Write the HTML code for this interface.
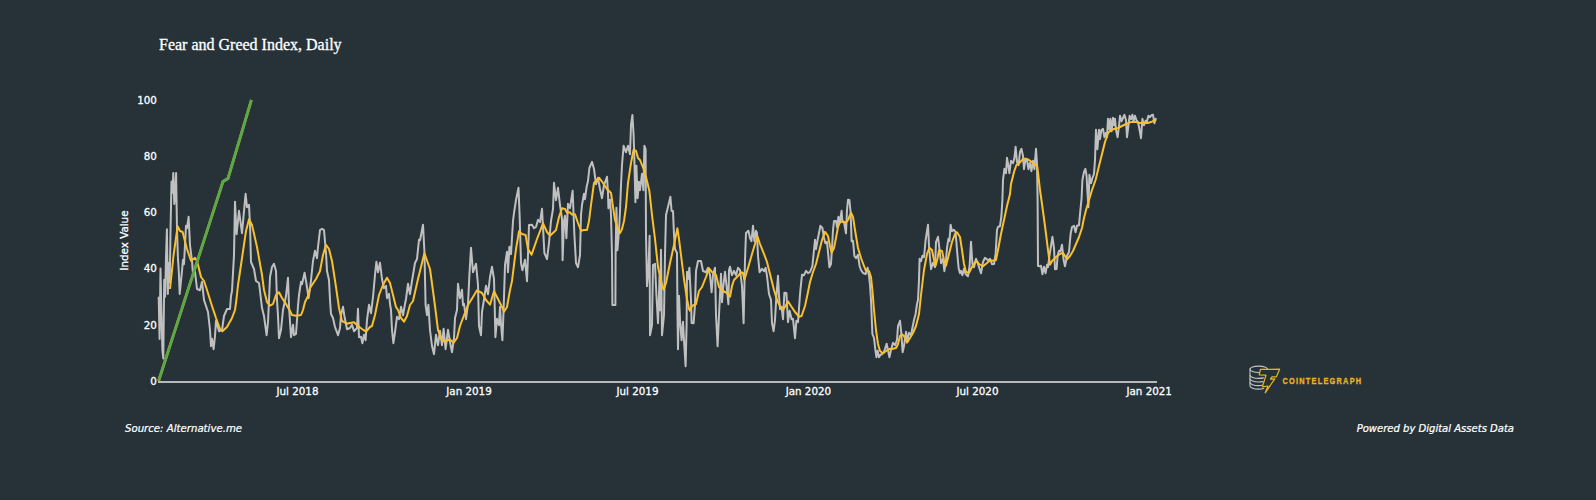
<!DOCTYPE html>
<html lang="en"><head><meta charset="utf-8"><title>Fear and Greed Index, Daily</title>
<style>
html,body{margin:0;padding:0;background:#263238;}
body{width:1596px;height:500px;overflow:hidden;position:relative;}
svg{position:absolute;left:0;top:0;display:block;}
.t{font-family:"DejaVu Sans","Liberation Sans",sans-serif;font-size:11px;fill:#fff;stroke:#fff;stroke-width:0.3px;}
.ti{font-family:"Liberation Serif",serif;font-size:16px;fill:#fff;stroke:#fff;stroke-width:0.3px;}
.it{font-family:"DejaVu Sans","Liberation Sans",sans-serif;font-size:11px;font-style:italic;fill:#fff;stroke:#fff;stroke-width:0.25px;}
.ct{font-family:"Liberation Sans",sans-serif;font-weight:bold;font-size:9.5px;fill:#e9b223;stroke:#e9b223;stroke-width:0.35px;letter-spacing:1.6px;}
</style></head><body>
<svg width="1596" height="500" viewBox="0 0 1596 500">
<rect x="0" y="0" width="1596" height="500" fill="#263238"/>
<text class="ti" x="159" y="50">Fear and Greed Index, Daily</text>
<polyline fill="none" stroke="#c0c0c0" stroke-width="2" stroke-linejoin="round" points="158.7,296.7 159.6,338.9 160.5,268.6 161.4,313.6 162.4,350.1 163.3,358.5 164.2,279.8 165.1,296.7 166.0,257.4 166.9,229.3 167.8,293.9 168.8,263.0 169.7,282.6 170.6,226.4 171.5,181.5 172.4,192.7 173.3,173.1 174.3,204.0 175.2,192.7 176.1,173.1 177.0,229.3 177.9,257.4 178.8,271.4 179.7,293.9 182.0,271.0 183.0,259.8 184.0,264.2 186.0,225.8 187.0,228.2 188.6,216.8 190.0,245.0 192.0,261.0 193.0,274.2 195.0,271.8 197.0,289.0 200.0,290.2 202.0,281.8 204.0,300.0 208.0,312.0 210.0,330.0 211.0,346.2 212.0,338.8 213.6,349.2 215.0,336.0 216.0,320.8 219.0,331.2 222.0,330.0 224.0,316.0 227.0,309.0 230.0,309.0 231.0,296.0 232.0,291.0 234.0,255.0 235.0,201.8 236.6,234.2 239.0,210.8 242.0,233.2 245.6,193.8 247.0,207.2 249.0,204.8 250.0,225.0 251.0,262.0 254.0,269.0 256.0,281.0 259.0,283.0 260.0,291.0 262.0,308.0 264.0,316.0 266.6,335.2 268.0,322.0 269.0,300.0 270.0,277.0 272.0,267.0 274.0,263.8 276.0,271.0 277.0,300.0 278.0,316.0 279.0,338.2 281.0,330.0 283.0,310.0 286.0,296.0 288.0,277.8 289.0,306.0 291.0,337.2 293.0,324.8 294.0,335.2 296.0,334.0 298.0,306.0 299.0,295.0 301.0,281.8 302.0,284.2 304.6,272.8 306.5,284.0 308.6,298.2 310.5,285.0 313.0,261.0 315.0,250.8 317.0,258.2 318.0,247.0 320.0,230.0 322.0,228.8 324.0,230.0 326.0,253.0 327.0,271.0 329.0,280.0 330.0,300.0 331.0,314.0 333.0,318.0 335.0,327.0 338.0,335.2 340.0,328.0 341.0,315.0 343.0,306.8 344.4,316.0 347.0,329.2 350.0,328.0 352.0,324.8 354.0,331.2 357.0,328.0 358.0,308.8 359.0,337.2 361.0,336.8 362.4,343.2 364.0,334.8 365.6,340.2 367.0,320.0 369.0,304.8 371.0,313.2 373.0,297.0 375.0,275.0 376.4,261.8 378.0,272.2 380.0,262.8 382.0,279.0 384.0,288.2 386.0,285.8 387.0,298.2 389.0,293.8 390.0,304.0 391.0,310.0 392.0,330.0 393.4,343.2 395.0,332.0 397.0,316.8 399.0,319.2 401.0,306.8 403.0,315.2 405.0,304.0 406.0,299.0 408.0,283.8 410.0,294.2 412.0,281.0 415.0,263.0 417.0,259.0 419.0,239.8 420.0,240.2 423.0,224.8 424.4,251.0 425.6,305.0 427.0,315.2 428.4,304.8 430.0,330.0 432.0,346.0 434.0,354.2 436.0,334.8 438.0,345.2 440.0,330.8 442.0,345.2 443.6,328.8 445.6,349.2 448.0,329.8 450.0,342.0 452.0,352.2 454.0,338.0 455.0,318.0 457.0,310.0 458.0,283.8 460.0,298.2 462.0,289.8 463.0,305.2 464.0,303.8 466.0,319.2 468.0,304.0 469.4,275.0 471.0,247.8 473.0,272.2 476.0,263.8 478.0,285.0 479.0,326.0 481.0,335.2 482.0,312.0 484.4,297.0 486.0,285.8 488.0,294.2 490.0,277.0 492.0,266.8 494.0,279.0 494.6,302.0 495.4,337.2 497.0,318.8 499.0,325.2 500.0,306.8 501.0,324.0 502.4,340.2 503.6,310.0 505.0,265.0 507.0,251.8 508.0,272.2 509.4,246.8 511.0,254.2 513.0,221.0 514.0,213.0 516.0,200.0 518.5,187.8 519.6,215.0 521.0,263.0 522.4,270.2 525.0,259.8 527.0,281.2 528.0,255.0 529.0,225.0 532.0,224.8 534.0,228.2 536.0,227.0 538.0,219.8 540.0,222.2 542.0,208.8 543.0,227.0 544.4,253.0 547.0,259.2 549.0,243.0 551.0,221.0 553.0,209.0 554.0,182.8 556.0,200.2 558.0,187.8 560.0,205.0 562.0,219.0 562.6,260.2 564.0,221.0 565.0,215.8 566.4,238.2 568.0,203.8 570.0,208.2 572.6,190.8 574.4,235.0 576.0,263.0 578.0,267.2 580.0,255.0 581.0,215.0 582.0,205.0 584.0,193.8 585.0,199.2 586.6,187.0 588.0,181.0 589.4,168.0 592.0,161.8 594.0,169.0 596.0,184.2 598.0,177.8 600.0,189.0 602.0,198.2 604.0,185.0 607.0,176.8 608.0,193.0 608.4,208.2 610.0,199.8 611.0,215.0 612.0,255.0 612.4,305.0 615.4,305.0 615.6,255.0 616.4,207.8 617.4,250.2 619.0,231.0 620.0,211.0 621.0,185.0 622.0,165.0 623.6,145.8 626.0,152.2 628.0,145.8 630.0,154.2 631.0,125.0 632.4,115.1 633.6,135.0 634.4,161.0 635.4,202.2 636.4,165.8 637.6,198.2 639.0,181.8 640.0,190.2 642.0,173.8 643.4,190.2 644.4,145.8 645.6,149.0 646.0,235.0 647.0,286.2 648.4,271.0 649.6,235.8 650.0,335.2 652.0,325.0 653.0,265.0 655.0,263.8 656.4,295.0 658.0,323.2 659.6,275.8 660.0,310.2 661.0,249.8 662.0,335.2 664.0,315.0 665.0,255.0 666.0,215.0 668.0,207.0 670.4,196.8 671.6,211.0 673.0,211.0 674.0,235.0 675.0,249.0 677.0,253.0 677.5,315.0 678.0,349.2 679.0,295.8 680.0,320.0 681.6,340.2 683.0,321.8 684.0,340.0 685.6,366.2 686.6,325.0 687.0,271.8 688.0,279.2 689.4,267.8 691.0,300.0 691.6,323.0 693.6,323.2 695.0,305.0 696.0,271.0 698.0,261.0 701.0,261.0 703.0,271.0 706.0,272.2 708.0,267.8 710.0,275.0 711.6,292.2 713.0,275.0 715.0,267.8 716.0,315.0 717.6,346.2 719.0,315.0 720.0,295.0 721.0,273.8 722.0,302.2 723.0,289.0 725.0,271.8 727.0,290.0 728.4,304.2 729.0,270.0 730.0,266.8 732.0,275.2 734.0,270.8 736.0,275.2 738.0,267.8 740.0,270.0 742.0,286.0 743.6,323.2 745.0,260.0 746.0,233.0 748.4,230.8 750.0,238.0 751.4,241.2 753.0,225.8 754.4,241.2 756.0,230.8 757.0,233.0 758.0,256.0 759.6,272.2 762.0,268.8 764.0,271.2 765.6,267.8 767.0,276.0 769.0,294.0 771.0,300.0 772.0,323.0 773.6,331.2 775.0,320.0 776.4,296.0 778.0,275.8 779.0,296.0 780.0,309.2 781.6,306.8 783.0,319.2 784.4,292.8 786.4,293.0 788.0,322.2 789.6,310.8 791.6,319.2 793.0,318.8 795.0,338.2 796.4,320.8 798.0,322.2 799.6,300.0 800.4,290.0 802.0,274.8 804.0,275.2 806.0,270.8 808.0,273.2 810.0,272.0 812.4,266.0 813.6,254.0 815.0,239.8 816.0,249.2 817.4,241.0 819.0,233.0 820.4,225.8 822.4,228.0 824.0,238.0 825.4,243.2 827.0,241.8 828.0,252.0 829.4,267.2 831.0,264.0 832.0,248.0 833.0,230.0 834.0,221.0 836.0,221.0 837.0,227.2 838.4,216.8 839.6,223.2 841.6,210.8 842.4,222.0 844.0,222.0 846.0,233.2 847.0,210.0 848.0,199.8 849.4,200.0 850.6,212.0 851.6,241.2 853.0,240.8 854.4,256.0 856.0,258.2 858.0,254.8 859.6,266.0 861.0,270.0 863.0,273.0 865.6,274.2 867.6,267.8 869.0,276.0 870.0,285.0 871.0,300.0 872.4,334.0 874.0,338.0 875.4,350.0 876.4,357.2 877.6,350.8 879.0,357.2 880.4,354.8 882.0,354.2 884.0,352.0 886.6,343.8 888.0,350.0 889.4,357.2 891.0,350.0 893.0,342.8 895.0,345.2 897.0,340.0 898.0,326.0 900.0,320.8 901.4,334.0 902.6,352.2 904.0,346.0 906.0,331.8 907.4,341.2 909.0,332.8 911.0,335.2 912.4,328.0 914.0,320.0 915.6,314.0 917.0,304.0 918.0,300.0 919.0,280.0 919.6,258.8 921.0,261.2 922.4,255.8 924.0,257.2 925.6,240.0 928.0,224.8 929.0,246.0 930.0,258.0 931.0,269.2 933.0,262.8 935.0,267.2 936.0,242.0 938.0,236.8 939.6,250.0 941.0,263.2 943.0,258.8 944.4,271.2 946.0,260.0 947.0,248.0 948.4,238.8 949.4,241.2 950.6,224.8 952.0,231.2 954.0,229.8 955.6,232.0 957.0,250.0 958.6,268.0 960.0,273.2 961.0,270.8 962.4,275.2 964.0,268.8 965.6,274.0 968.0,276.2 969.6,266.0 971.0,241.8 972.4,264.0 974.0,267.2 976.0,258.8 978.0,264.0 981.0,273.2 983.0,262.0 985.0,257.8 988.0,260.2 990.0,258.8 992.0,264.2 994.0,264.0 995.6,254.0 997.0,230.0 998.0,227.0 1000.0,226.0 1001.4,216.0 1002.4,200.0 1003.0,180.0 1004.4,168.8 1006.0,173.2 1007.0,157.8 1008.4,166.0 1009.4,173.2 1011.0,160.8 1013.0,163.2 1014.4,158.0 1015.6,146.8 1017.0,162.0 1018.6,165.2 1020.0,152.0 1021.4,148.8 1023.0,156.0 1024.0,169.2 1025.6,158.8 1027.0,160.0 1028.4,169.2 1030.0,162.8 1031.4,171.2 1033.0,160.8 1034.4,169.2 1036.0,148.8 1037.0,164.0 1037.6,200.0 1038.0,266.0 1040.0,266.2 1041.0,265.8 1042.4,274.2 1044.0,266.8 1045.6,273.2 1047.0,264.8 1048.0,267.2 1049.4,256.0 1051.0,246.0 1052.4,236.8 1054.0,248.0 1055.0,269.2 1056.6,269.0 1057.6,256.0 1059.0,250.8 1060.4,251.2 1062.0,244.8 1063.6,260.0 1065.0,266.2 1067.0,256.0 1069.0,252.0 1070.6,234.0 1072.0,227.0 1074.0,225.8 1075.6,232.2 1077.0,225.8 1079.0,225.2 1080.4,210.0 1081.6,198.0 1082.4,180.0 1084.0,172.0 1085.4,168.8 1086.6,176.0 1087.4,192.0 1088.4,207.2 1089.4,174.8 1091.0,183.2 1092.4,178.0 1094.0,174.0 1095.0,160.0 1096.0,129.8 1097.4,149.2 1099.0,129.8 1100.0,139.2 1101.4,130.0 1103.0,128.8 1104.4,137.2 1106.0,132.8 1107.0,137.2 1108.0,118.8 1109.4,129.2 1110.4,118.8 1111.6,131.2 1113.0,117.8 1114.0,125.2 1115.0,118.8 1116.0,130.0 1117.6,137.2 1119.0,126.0 1120.0,115.8 1121.6,121.2 1123.0,118.0 1124.4,114.8 1126.0,120.0 1127.0,137.2 1128.4,126.0 1129.6,115.8 1131.0,119.2 1132.4,114.8 1133.6,121.2 1135.0,115.8 1136.4,120.0 1138.0,122.0 1139.6,130.0 1141.0,138.2 1142.4,118.8 1144.0,125.2 1145.6,120.8 1147.0,121.2 1148.4,115.8 1150.0,117.2 1151.6,115.0 1153.0,114.8 1154.4,123.2 1156.0,118.0"/>
<polyline fill="none" stroke="#fbc02d" stroke-width="2" stroke-linejoin="round" points="170.0,289.0 173.6,255.0 177.6,226.3 180.0,231.0 182.6,232.0 187.0,249.0 191.0,260.7 195.0,257.9 197.0,261.0 201.0,277.0 204.0,281.0 207.0,290.0 212.0,306.0 216.0,318.0 220.0,329.0 222.4,331.3 227.0,327.0 232.0,318.0 235.0,310.0 236.4,300.0 238.0,285.0 241.0,265.0 246.0,231.0 249.0,219.3 252.0,225.0 257.0,247.0 262.0,275.0 264.0,290.0 267.0,302.0 270.0,305.7 273.0,304.0 276.0,295.0 279.0,292.3 282.0,298.0 286.0,304.0 290.0,311.0 292.0,315.0 296.0,315.7 301.0,315.0 303.0,310.0 305.0,302.0 308.0,296.0 310.0,288.0 316.0,279.0 320.0,271.0 323.0,255.0 326.0,244.9 329.0,249.0 332.0,261.0 336.0,287.0 339.0,308.0 342.0,321.0 347.0,323.7 350.0,323.0 354.0,322.3 358.0,326.0 362.0,329.0 366.0,331.7 370.0,327.0 372.0,326.0 375.0,315.0 379.0,295.0 383.0,285.0 387.0,277.7 390.0,283.0 393.0,295.0 396.0,307.0 398.0,310.0 401.0,318.0 404.0,321.7 407.0,316.0 410.0,305.0 413.0,301.0 418.0,279.0 424.4,253.3 430.0,269.0 433.0,291.0 435.0,306.0 438.0,330.0 441.0,338.0 443.0,341.3 446.0,341.0 449.6,339.3 453.6,342.7 457.0,338.0 460.0,326.0 463.0,318.0 466.0,310.0 468.0,305.0 473.0,297.0 477.0,290.3 482.0,293.0 486.0,300.0 490.0,304.7 494.0,291.3 498.0,299.0 502.0,307.0 504.0,311.7 507.0,307.0 510.0,290.0 512.0,281.0 516.0,249.0 519.0,231.3 522.0,234.0 525.6,235.0 528.0,249.0 531.6,254.7 537.0,239.0 543.0,223.3 547.0,232.0 550.0,235.7 554.0,232.0 556.0,230.0 559.0,217.0 562.0,208.3 565.0,209.0 567.0,212.7 570.0,212.3 572.0,214.7 575.0,214.3 578.0,223.0 581.0,230.7 584.0,230.0 587.0,230.0 589.0,221.0 591.0,205.0 594.0,183.0 599.0,177.7 603.0,183.0 607.0,189.0 611.0,193.0 613.0,207.0 615.0,220.0 618.0,229.0 620.0,233.1 622.0,229.0 624.0,221.0 626.0,207.0 628.0,183.0 631.0,163.0 633.6,149.7 636.0,151.0 638.0,158.0 640.0,160.0 644.0,170.0 647.0,181.0 649.4,191.0 652.0,215.0 655.0,239.0 658.0,267.0 661.0,281.0 663.6,289.7 666.0,283.0 670.0,263.0 674.0,245.0 677.4,228.3 679.0,239.0 682.0,263.0 684.0,279.0 687.0,299.0 689.0,309.0 690.0,310.7 692.0,306.0 696.0,304.0 699.0,291.0 702.0,287.0 706.0,277.0 709.0,268.3 712.0,272.0 716.0,275.0 719.0,287.0 723.0,291.0 727.0,293.0 730.0,296.7 732.0,286.0 734.0,280.0 738.0,276.0 741.0,272.3 743.0,273.0 744.4,279.7 748.0,268.0 752.0,254.0 755.0,244.0 757.6,236.7 760.0,244.0 764.0,254.0 767.0,262.0 770.0,274.0 774.0,290.0 777.0,300.0 780.0,306.0 783.0,309.7 785.6,306.0 788.0,301.3 791.0,306.0 795.0,312.0 799.0,316.7 801.6,316.0 805.0,306.0 808.0,292.0 810.0,282.0 813.0,272.0 816.0,264.0 819.0,252.0 822.0,240.0 825.0,231.9 828.0,236.0 830.0,246.0 831.6,252.7 834.0,248.0 836.0,238.0 838.0,227.0 840.0,222.0 843.0,221.3 846.0,222.7 848.0,220.0 851.0,212.7 853.0,217.0 855.0,230.0 858.0,248.0 861.0,258.0 864.0,266.0 866.0,271.0 869.0,271.0 871.0,277.0 872.4,290.0 874.0,310.0 876.0,330.0 878.0,344.0 880.0,351.0 883.0,353.3 886.0,351.0 889.0,349.0 892.0,349.0 896.0,348.0 898.0,344.0 900.0,336.0 902.0,334.3 904.0,336.0 907.0,342.7 910.0,338.0 913.0,333.0 916.0,326.0 919.0,314.0 921.0,295.0 924.0,270.0 927.0,254.0 929.4,247.9 932.0,250.0 934.0,260.0 935.6,265.7 937.6,258.0 939.0,250.3 942.0,251.0 944.0,260.0 946.0,265.7 949.0,254.0 952.0,242.0 955.0,234.0 957.0,232.3 960.0,237.0 962.0,250.0 964.0,264.0 966.0,272.0 969.0,272.7 972.0,267.0 975.0,262.0 977.0,261.3 979.0,264.0 983.0,266.3 987.0,263.0 990.0,260.3 993.0,260.7 996.0,260.0 998.0,250.0 1001.0,234.0 1004.0,220.0 1007.0,206.0 1010.0,194.0 1011.0,184.0 1014.0,172.0 1016.4,165.0 1020.0,162.4 1023.0,159.0 1026.0,158.7 1029.0,160.0 1032.0,162.0 1034.4,165.0 1037.0,165.0 1038.4,176.0 1040.0,190.0 1042.0,204.0 1045.0,226.0 1048.0,250.0 1050.0,264.7 1052.0,261.0 1056.0,257.0 1060.0,254.0 1063.0,252.7 1065.0,256.0 1067.0,259.3 1070.0,256.0 1073.0,251.0 1076.0,244.0 1079.0,237.0 1082.0,228.0 1084.0,218.0 1086.0,210.0 1089.0,200.0 1092.0,190.0 1095.6,180.0 1099.0,166.0 1102.0,154.0 1105.0,142.0 1108.0,133.0 1111.0,130.0 1114.0,129.0 1118.0,128.0 1122.0,126.0 1126.0,124.0 1130.0,122.4 1133.0,121.7 1136.0,122.0 1140.0,123.0 1144.0,123.0 1148.0,123.0 1152.0,121.6 1156.0,119.6"/>
<polyline fill="none" stroke="#ff9800" stroke-width="2.7" stroke-linejoin="round" points="158.6,381.0 223.0,181.5 228.0,178.5 251.4,100.0"/>
<polyline fill="none" stroke="#55ab4b" stroke-width="2.7" stroke-linejoin="round" points="158.6,381.0 223.0,181.5 228.0,178.5 251.4,100.0"/>
<rect x="158" y="381" width="999" height="2" fill="#b4b9bb"/>
<text class="t" transform="translate(156.9,384.7) scale(0.94,1)" text-anchor="end">0</text>
<text class="t" transform="translate(156.9,328.5) scale(0.94,1)" text-anchor="end">20</text>
<text class="t" transform="translate(156.9,272.3) scale(0.94,1)" text-anchor="end">40</text>
<text class="t" transform="translate(156.9,216.1) scale(0.94,1)" text-anchor="end">60</text>
<text class="t" transform="translate(156.9,159.9) scale(0.94,1)" text-anchor="end">80</text>
<text class="t" transform="translate(156.9,103.7) scale(0.94,1)" text-anchor="end">100</text>
<text class="t" transform="translate(297.5,395) scale(0.94,1)" text-anchor="middle">Jul 2018</text>
<text class="t" transform="translate(469,395) scale(0.94,1)" text-anchor="middle">Jan 2019</text>
<text class="t" transform="translate(637.5,395) scale(0.94,1)" text-anchor="middle">Jul 2019</text>
<text class="t" transform="translate(808.4,395) scale(0.94,1)" text-anchor="middle">Jan 2020</text>
<text class="t" transform="translate(977.5,395) scale(0.94,1)" text-anchor="middle">Jul 2020</text>
<text class="t" transform="translate(1149.2,395) scale(0.94,1)" text-anchor="middle">Jan 2021</text>
<text class="t" transform="translate(128.4,240.5) rotate(-90) scale(0.94,1)" text-anchor="middle">Index Value</text>
<text class="it" transform="translate(125,432) scale(0.925,1)">Source: Alternative.me</text>
<text class="it" transform="translate(1514,432) scale(0.913,1)" text-anchor="end">Powered by Digital Assets Data</text>
<g id="logo" fill="none" stroke-linecap="round" stroke-linejoin="round">
<g stroke="#c4c6c8" stroke-width="1.100">
<ellipse cx="1258.700" cy="369.300" rx="8.700" ry="3.200"/>
<path d="M1250 368.800v17.200c0 1.700 3.900 3.100 8.700 3.100c2 0 3.600-.2 5-.6"/>
<path d="M1250 375.300c0 1.700 3.900 3.100 8.700 3.100c1.800 0 3.400-.2 4.800-.5"/>
<path d="M1250 378.900c0 1.700 3.900 3.100 8.700 3.100c1.500 0 2.900-.1 4.100-.4"/>
<path d="M1250 382.500c0 1.700 3.900 3.100 8.700 3.100c1.200 0 2.300-.1 3.300-.3"/>
<path d="M1267.400 368.800v1"/>
</g>
<path d="M1260.400 369.400L1279.600 369.200L1276.400 376.800L1272 376.800L1270.400 379.200L1274.800 378.800L1265.200 392.800L1268 386L1262.400 386.800L1266 375.200L1259.200 374.800Z" stroke="#e9b223" stroke-width="1.200" fill="#263238"/>
</g>
<text class="ct" transform="translate(1282.500,384) scale(0.775,1)">COINTELEGRAPH</text>
</svg></body></html>
